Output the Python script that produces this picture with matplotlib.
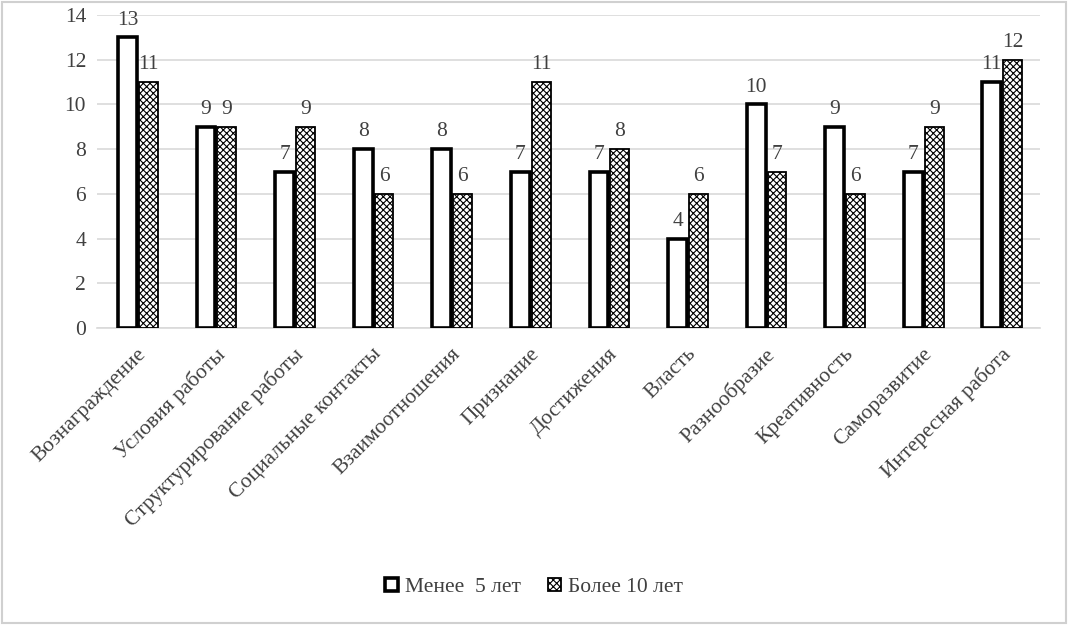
import numpy as np
import matplotlib
matplotlib.use('Agg')
import matplotlib.pyplot as plt
from matplotlib.patches import Rectangle

plt.rcParams['font.family'] = ['Liberation Serif', 'DejaVu Serif']
plt.rcParams['hatch.linewidth'] = 0.8

categories = ['Вознаграждение', 'Условия работы', 'Структурирование работы',
              'Социальные контакты', 'Взаимоотношения', 'Признание', 'Достижения',
              'Власть', 'Разнообразие', 'Креативность', 'Саморазвитие',
              'Интересная работа']
less_5 = [13, 9, 7, 8, 8, 7, 7, 4, 10, 9, 7, 11]
more_10 = [11, 9, 9, 6, 6, 11, 8, 6, 7, 6, 9, 12]
yticks = [0, 2, 4, 6, 8, 10, 12, 14]

fig = plt.figure(figsize=(10.68, 6.25), dpi=100)
ax = fig.add_axes([0.091, 0.4752, 0.883, 0.5008])

x = np.arange(len(categories))
w = 0.24
off1 = -w / 2 + 0.005
off2 = w / 2 + 0.03
b1 = ax.bar(x + off1, less_5, w, color='white', edgecolor='black',
            linewidth=2.6, label='Менее  5 лет', zorder=3)
b2 = ax.bar(x + off2, more_10, w, color='white', edgecolor='black',
            hatch='xxxxx', linewidth=1.3, label='Более 10 лет', zorder=3)

for xi, v in zip(x, less_5):
    ax.text(xi + off1, v + 0.35, str(v), ha='center', va='bottom',
            fontsize=15.5, color='#404040')
for xi, v in zip(x, more_10):
    ax.text(xi + off2, v + 0.35, str(v), ha='center', va='bottom',
            fontsize=15.5, color='#404040')

ax.set_ylim(0, 14)
ax.set_xlim(-0.5, len(categories) - 0.5)
ax.set_yticks(yticks)
ax.yaxis.grid(True, color='#d9d9d9', linewidth=1.2, zorder=0)
ax.set_axisbelow(True)
for s in ['top', 'right', 'left']:
    ax.spines[s].set_visible(False)
ax.spines['bottom'].set_color('#d9d9d9')
ax.spines['bottom'].set_linewidth(1.2)
ax.tick_params(axis='y', length=0, labelsize=15.5, labelcolor='#404040', pad=8)
ax.tick_params(axis='x', length=0, labelsize=15.5, labelcolor='#404040', pad=12)
ax.set_xticks(x)
ax.set_xticklabels(categories, rotation=45, ha='right', rotation_mode='anchor')

fig.legend(handles=[b1, b2], loc='center', bbox_to_anchor=(0.5, 0.06), ncol=2,
           frameon=False, fontsize=15.5, handlelength=0.6, handleheight=0.6,
           columnspacing=1.3, handletextpad=0.3, labelcolor='#404040')

fig.patches.append(Rectangle((0.002, 0.003), 0.996, 0.994, transform=fig.transFigure,
                             fill=False, edgecolor='#d0d0d0', linewidth=1.5))

fig.savefig('out.png', dpi=100)
